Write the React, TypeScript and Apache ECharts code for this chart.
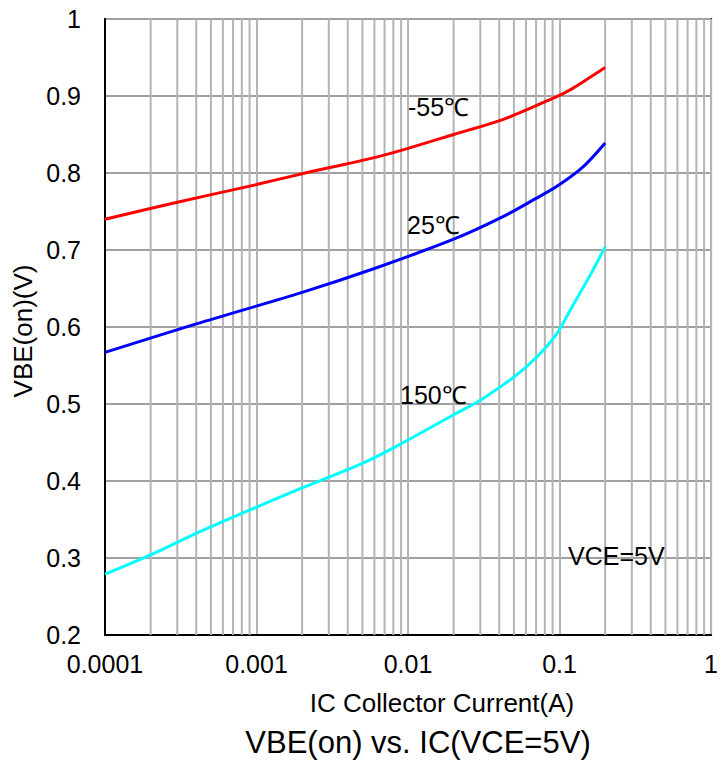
import React, { useEffect, useRef } from "react";
import * as echarts from "echarts";

// Collector current (A) and base-emitter on-voltage (V) for each temperature
const icMinus55 = [0.0001, 0.0003, 0.001, 0.002, 0.006, 0.01, 0.02, 0.043, 0.095, 0.12, 0.15, 0.2];
const vbeMinus55 = [0.740, 0.762, 0.785, 0.799, 0.820, 0.832, 0.850, 0.870, 0.899, 0.909, 0.921, 0.937];

const ic25 = [0.0001, 0.0004, 0.002, 0.006, 0.02, 0.043, 0.07, 0.095, 0.143, 0.2];
const vbe25 = [0.567, 0.604, 0.645, 0.676, 0.714, 0.744, 0.767, 0.782, 0.808, 0.839];

const ic150 = [0.0001, 0.0002, 0.0004, 0.001, 0.002, 0.005, 0.0082, 0.02, 0.03, 0.05, 0.07, 0.095, 0.12, 0.16, 0.2];
const vbe150 = [0.279, 0.304, 0.332, 0.366, 0.391, 0.423, 0.444, 0.486, 0.505, 0.535, 0.560, 0.590, 0.625, 0.668, 0.704];

// Axis tick labels
const xTickLabels: Record<string, string> = {
  "0.0001": "0.0001",
  "0.001": "0.001",
  "0.01": "0.01",
  "0.1": "0.1",
  "1": "1",
};
const yTickLabels = ["0.2", "0.3", "0.4", "0.5", "0.6", "0.7", "0.8", "0.9", "1"];

// Minor decade gridlines (2..9 x each decade)
const decades = [0.0001, 0.001, 0.01, 0.1];
const minorMultipliers = [2, 3, 4, 5, 6, 7, 8, 9];
const Y_MIN = 0.2;
const Y_MAX = 1;

const FONT = "'Liberation Sans', Arial, Helvetica, sans-serif";

const zip = (xs: number[], ys: number[]) => xs.map((x, i) => [x, ys[i]]);

export default function App() {
  const ref = useRef<HTMLDivElement>(null);

  useEffect(() => {
    if (!ref.current) return;
    const chart = echarts.init(ref.current, undefined, { renderer: "svg" });

    const minorLines: number[] = [];
    decades.forEach((d) => minorMultipliers.forEach((m) => minorLines.push(parseFloat((d * m).toPrecision(3)))));

    // Each minor gridline is a vertical two-point segment placed through the log axis
    const minorSeries = minorLines.map((v) => ({
      type: "line",
      data: [
        [v, Y_MIN],
        [v, Y_MAX],
      ],
      showSymbol: false,
      silent: true,
      lineStyle: { color: "#b4b4b4", width: 2 },
      z: 1,
    }));

    const lineSeries = (name: string, xs: number[], ys: number[], color: string) => ({
      name,
      type: "line",
      data: zip(xs, ys),
      showSymbol: false,
      smooth: 0.3,
      lineStyle: { color, width: 3 },
      z: 3,
    });

    chart.setOption({
      animation: false,
      backgroundColor: "#ffffff",
      textStyle: { fontFamily: FONT },
      grid: {
        left: 105,
        right: 1,
        top: 19,
        bottom: 128,
        show: true,
        borderColor: "#000000",
        borderWidth: 2,
        backgroundColor: "transparent",
      },
      xAxis: {
        type: "log",
        logBase: 10,
        min: 0.0001,
        max: 1,
        axisLine: { show: true, lineStyle: { color: "#000", width: 2 } },
        axisTick: { show: false },
        axisLabel: {
          color: "#000",
          fontSize: 25,
          fontFamily: FONT,
          margin: 16,
          formatter: (v: number) => xTickLabels[String(parseFloat(v.toPrecision(3)))] ?? "",
        },
        splitLine: { show: true, lineStyle: { color: "#b4b4b4", width: 2 } },
      },
      yAxis: {
        type: "value",
        min: Y_MIN,
        max: Y_MAX,
        interval: 0.1,
        axisLine: { show: true, lineStyle: { color: "#000", width: 2 } },
        axisTick: { show: false },
        axisLabel: {
          color: "#000",
          fontSize: 25,
          fontFamily: FONT,
          margin: 24,
          formatter: (v: number) => yTickLabels[Math.round((v - Y_MIN) * 10)] ?? "",
        },
        splitLine: { show: true, lineStyle: { color: "#a0a0a0", width: 2 } },
      },
      series: [
        ...minorSeries,
        lineSeries("-55℃", icMinus55, vbeMinus55, "#ff0000"),
        lineSeries("25℃", ic25, vbe25, "#0000ff"),
        lineSeries("150℃", ic150, vbe150, "#00ffff"),
      ],
      graphic: [
        { type: "text", left: 408, top: 94, z: 10, style: { text: "-55℃", fontSize: 25, fontFamily: FONT, fill: "#000" } },
        { type: "text", left: 407, top: 212, z: 10, style: { text: "25℃", fontSize: 25, fontFamily: FONT, fill: "#000" } },
        { type: "text", left: 400, top: 382, z: 10, style: { text: "150℃", fontSize: 25, fontFamily: FONT, fill: "#000" } },
        { type: "text", left: 568, top: 543, z: 10, style: { text: "VCE=5V", fontSize: 25, fontFamily: FONT, fill: "#000" } },
        {
          type: "text",
          x: 23,
          y: 331,
          rotation: Math.PI / 2,
          z: 10,
          style: { text: "VBE(on)(V)", fontSize: 26, fontFamily: FONT, fill: "#000", align: "center", verticalAlign: "middle" },
        },
        {
          type: "text",
          x: 442,
          y: 703,
          z: 10,
          style: { text: "IC Collector Current(A)", fontSize: 26, fontFamily: FONT, fill: "#000", align: "center", verticalAlign: "middle" },
        },
        {
          type: "text",
          x: 418,
          y: 742,
          z: 10,
          style: { text: "VBE(on) vs. IC(VCE=5V)", fontSize: 31, fontFamily: FONT, fill: "#000", align: "center", verticalAlign: "middle" },
        },
      ],
    });

    return () => chart.dispose();
  }, []);

  return <div ref={ref} style={{ width: 721, height: 763, position: "absolute", left: 0, top: 0 }} />;
}
